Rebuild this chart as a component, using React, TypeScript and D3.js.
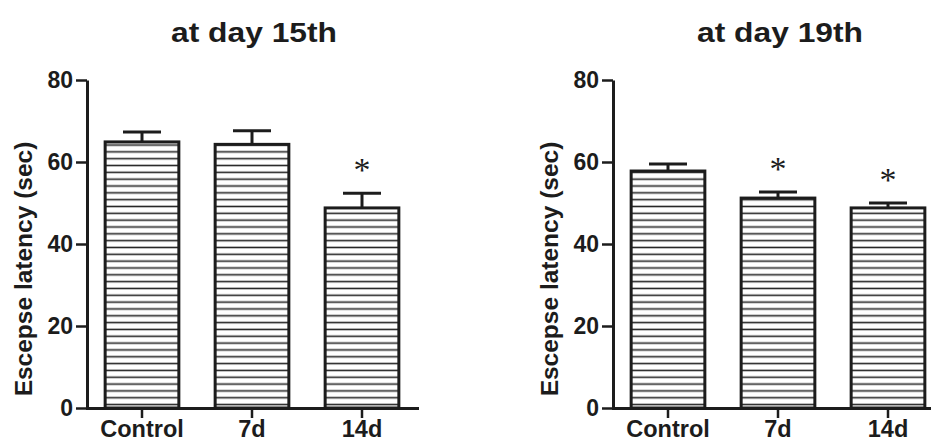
import React, { useEffect, useRef } from 'react';
import * as d3 from 'd3';

const categories = ['Control', '7d', '14d'];
const day15Means = [64.9, 64.3, 48.8];
const day15Sem = [2.4, 3.3, 3.6];
const day15Sig = [false, false, true];
const day19Means = [57.8, 51.2, 48.8];
const day19Sem = [1.7, 1.5, 1.2];
const day19Sig = [false, true, true];
const yTicks = [0, 20, 40, 60, 80];
const titles = ['at day 15th', 'at day 19th'];
const yLabel = 'Escepse latency (sec)';

const FONT = "'Liberation Sans', Arial, sans-serif";
const INK = '#1c1c1c';

const App = () => {
  const ref = useRef<SVGSVGElement>(null);

  useEffect(() => {
    const svg = d3.select(ref.current);
    svg.selectAll('*').remove();

    const width = 931;
    const height = 443;
    const top = 80;
    const bottom = 408;

    const defs = svg.append('defs');
    const pat = defs.append('pattern')
      .attr('id', 'hatch')
      .attr('patternUnits', 'userSpaceOnUse')
      .attr('x', 0)
      .attr('y', bottom)
      .attr('width', 20)
      .attr('height', 6.83);
    pat.append('rect').attr('width', 20).attr('height', 6.83).attr('fill', '#fff');
    pat.append('line')
      .attr('x1', 0).attr('x2', 20)
      .attr('y1', 3.4).attr('y2', 3.4)
      .attr('stroke', '#262626')
      .attr('stroke-width', 1.6);

    svg.append('rect').attr('width', width).attr('height', height).attr('fill', '#fff');

    const yScale = d3.scaleLinear().domain([0, 80]).range([bottom, top]);

    const panels = [
      { axisX: 87, title: titles[0], titleX: 254, means: day15Means, sem: day15Sem, sig: day15Sig },
      { axisX: 613, title: titles[1], titleX: 780, means: day19Means, sem: day19Sem, sig: day19Sig },
    ];

    panels.forEach(p => {
      const data = categories.map((c, i) => ({ cat: c, mean: p.means[i], sem: p.sem[i], sig: p.sig[i] }));
      const xScale = d3.scaleBand()
        .domain(categories)
        .range([p.axisX, p.axisX + 330])
        .paddingInner(0.33)
        .paddingOuter(0.165);

      const g = svg.append('g');

      // bars
      g.selectAll('.bar')
        .data(data)
        .enter().append('rect')
        .attr('class', 'bar')
        .attr('x', d => xScale(d.cat)!)
        .attr('width', xScale.bandwidth())
        .attr('y', d => yScale(d.mean))
        .attr('height', d => bottom - yScale(d.mean))
        .attr('fill', 'url(#hatch)')
        .attr('stroke', INK)
        .attr('stroke-width', 3);

      // error bars
      const cx = (d: { cat: string }) => xScale(d.cat)! + xScale.bandwidth() / 2;
      g.selectAll('.err')
        .data(data)
        .enter().append('line')
        .attr('class', 'err')
        .attr('x1', cx).attr('x2', cx)
        .attr('y1', d => yScale(d.mean))
        .attr('y2', d => yScale(d.mean + d.sem))
        .attr('stroke', INK)
        .attr('stroke-width', 3);
      g.selectAll('.cap')
        .data(data)
        .enter().append('line')
        .attr('class', 'cap')
        .attr('x1', d => cx(d) - 19).attr('x2', d => cx(d) + 19)
        .attr('y1', d => yScale(d.mean + d.sem))
        .attr('y2', d => yScale(d.mean + d.sem))
        .attr('stroke', INK)
        .attr('stroke-width', 3);

      // significance stars
      g.selectAll('.star')
        .data(data.filter(d => d.sig))
        .enter().append('text')
        .attr('class', 'star')
        .attr('x', cx)
        .attr('y', d => yScale(d.mean + d.sem) - 12)
        .attr('text-anchor', 'middle')
        .attr('font-family', "'Liberation Serif', 'Times New Roman', serif")
        .attr('font-size', 34)
        .attr('fill', INK)
        .text('*');

      // y axis
      const yAxis = g.append('g')
        .attr('transform', `translate(${p.axisX},0)`)
        .call(d3.axisLeft(yScale).tickValues(yTicks).tickSize(11).tickSizeOuter(0).tickPadding(3));
      yAxis.select('.domain').attr('stroke', INK).attr('stroke-width', 3);
      yAxis.selectAll('.tick line').attr('stroke', INK).attr('stroke-width', 2.5);
      yAxis.selectAll('.tick text')
        .attr('font-family', FONT)
        .attr('font-weight', 'bold')
        .attr('font-size', 23)
        .attr('fill', INK);

      // x axis
      const xAxis = g.append('g')
        .attr('transform', `translate(0,${bottom})`)
        .call(d3.axisBottom(xScale).tickSize(10).tickSizeOuter(0).tickPadding(2.5));
      xAxis.select('.domain').attr('stroke', INK).attr('stroke-width', 3).attr('stroke-linecap', 'square');
      xAxis.selectAll('.tick line').attr('stroke', INK).attr('stroke-width', 2.5);
      xAxis.selectAll('.tick text')
        .attr('font-family', FONT)
        .attr('font-weight', 'bold')
        .attr('font-size', 23.5)
        .attr('fill', INK);

      // title
      g.append('text')
        .attr('x', p.titleX)
        .attr('y', 42)
        .attr('text-anchor', 'middle')
        .attr('font-family', FONT)
        .attr('font-weight', 'bold')
        .attr('font-size', 28)
        .attr('textLength', 166)
        .attr('lengthAdjust', 'spacingAndGlyphs')
        .attr('fill', INK)
        .text(p.title);

      // y label
      g.append('text')
        .attr('transform', `translate(${p.axisX - 55},${(top + bottom) / 2 + 25}) rotate(-90)`)
        .attr('text-anchor', 'middle')
        .attr('font-family', FONT)
        .attr('font-weight', 'bold')
        .attr('font-size', 24.5)
        .attr('fill', INK)
        .text(yLabel);
    });
  }, []);

  return (
    <div style={{ position: 'absolute', left: 0, top: 0, width: 931, height: 443 }}>
      <svg ref={ref} width={931} height={443}></svg>
    </div>
  );
};

export default App;
